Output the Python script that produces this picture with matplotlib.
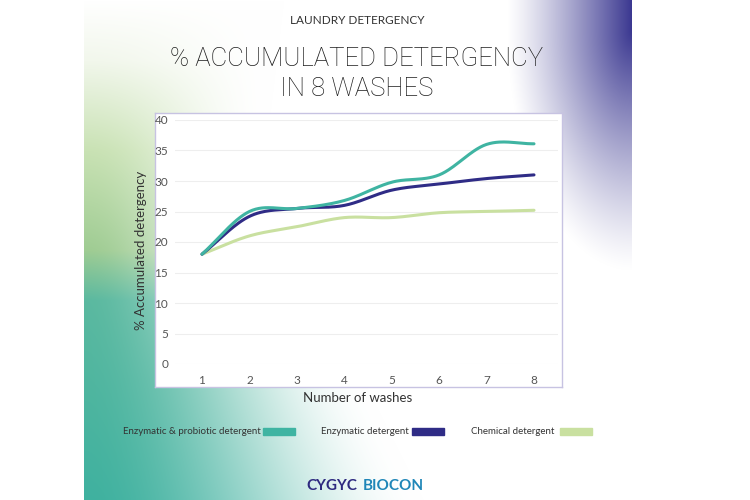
import numpy as np
import matplotlib
matplotlib.use("Agg")
import matplotlib.pyplot as plt
from matplotlib.patches import Rectangle

washes = [1, 2, 3, 4, 5, 6, 7, 8]
enz_probiotic = [18, 25, 25.5, 26.8, 29.8, 31, 36, 36.1]
enzymatic = [18, 24.2, 25.5, 26, 28.5, 29.5, 30.4, 31]
chemical = [18, 21, 22.5, 24, 24, 24.8, 25, 25.2]
names = ["Enzymatic & probiotic detergent", "Enzymatic detergent", "Chemical detergent"]
colors = ["#3fb4a2", "#2f2c86", "#c9e0a0"]

plt.rcParams['font.family'] = ['Lato', 'DejaVu Sans']


def smooth(x, y, n=30):
    # catmull-rom through the points, only for drawing the curve
    x = np.asarray(x, float)
    y = np.asarray(y, float)
    px = np.concatenate([[2 * x[0] - x[1]], x, [2 * x[-1] - x[-2]]])
    py = np.concatenate([[2 * y[0] - y[1]], y, [2 * y[-1] - y[-2]]])
    xs, ys = [], []
    for i in range(1, len(px) - 2):
        t = np.linspace(0, 1, n, endpoint=False)
        for p, out in ((px, xs), (py, ys)):
            p0, p1, p2, p3 = p[i - 1], p[i], p[i + 1], p[i + 2]
            out.append(0.5 * (2 * p1 + (-p0 + p2) * t + (2 * p0 - 5 * p1 + 4 * p2 - p3) * t ** 2
                              + (-p0 + 3 * p1 - 3 * p2 + p3) * t ** 3))
    xs.append([x[-1]])
    ys.append([y[-1]])
    return np.concatenate(xs), np.concatenate(ys)


fig = plt.figure(figsize=(7.5, 5), dpi=100)

# background of the poster
W, H = 548, 500
xx, yy = np.meshgrid(np.arange(W), np.arange(H))
img = np.ones((H, W, 3))

# left side: colour along the edge, faded towards the middle
key_y = [0, 60, 150, 250, 300, 500]
key_c = [matplotlib.colors.to_rgb(c) for c in ["#ffffff", "#f2f7ec", "#c9e2b4", "#9fcc93", "#5bb9a0", "#3fb19f"]]
col = np.stack([np.interp(np.arange(H), key_y, [c[k] for c in key_c]) for k in range(3)], axis=1)
R = np.interp(yy, [0, 250, 380, 500], [200, 170, 280, 340])
a = np.clip(1 - xx / R, 0, 1)
a = a * a * (3 - 2 * a)
img = img * (1 - a[..., None]) + col[:, None, :] * a[..., None]

purple = np.array(matplotlib.colors.to_rgb("#3a3790"))
d_purp = np.sqrt(((W - xx) / 125.0) ** 2 + (np.clip(yy - 30, 0, None) / 240.0) ** 2)
ap = np.clip(1 - d_purp, 0, 1) ** 1.2
img = img * (1 - ap[..., None]) + purple * ap[..., None]

bg = fig.add_axes([84 / 750, 0, 548 / 750, 1])
bg.imshow(img, aspect="auto", extent=[0, 1, 0, 1])
bg.axis("off")

# white frame around the plot
frame = fig.add_axes([155 / 750, 1 - 387 / 500, 407 / 750, 274 / 500])
frame.set_facecolor("white")
frame.set_xticks([])
frame.set_yticks([])
for sp in frame.spines.values():
    sp.set_color("#c7c3e2")
    sp.set_linewidth(1)

ax = fig.add_axes([175 / 750, 1 - 364 / 500, 383 / 750, 244 / 500])
ax.patch.set_alpha(0)
for s, c in zip([enz_probiotic, enzymatic, chemical][::-1], colors[::-1]):
    sx, sy = smooth(washes, s)
    ax.plot(sx, sy, color=c, lw=2.2, solid_capstyle="round")

ax.set_xlim(1 - 27 / 47.43, 8 + 24 / 47.43)
ax.set_ylim(0, 40)
ax.set_xticks(washes)
ax.set_yticks(range(0, 41, 5))
ax.grid(axis="y", color="#eeeeee", lw=0.8)
ax.set_axisbelow(True)
ax.tick_params(length=0, labelsize=8.5, colors="#555555")
ax.tick_params(axis="y", pad=5)
ax.tick_params(axis="x", pad=8)
for sp in ax.spines.values():
    sp.set_visible(False)

fig.text(141 / 750, 1 - 250 / 500, "% Accumulated detergency", rotation=90, ha="center", va="center",
         fontsize=9.5, color="#333333")
fig.text(358 / 750, 1 - 398 / 500, "Number of washes", ha="center", va="center", fontsize=9.5, color="#333333")

fig.text(357 / 750, 1 - 20 / 500, "LAUNDRY DETERGENCY", ha="center", va="center", fontsize=8.5,
         color="#333333")
fig.text(357 / 750, 1 - 59 / 500, "% ACCUMULATED DETERGENCY", ha="center", va="center", fontsize=18.5,
         color="#1e1e1e", family=["Roboto", "DejaVu Sans"], fontweight="light")
fig.text(357 / 750, 1 - 89 / 500, "IN 8 WASHES", ha="center", va="center", fontsize=18.5,
         color="#1e1e1e", family=["Roboto", "DejaVu Sans"], fontweight="light")

# legend
leg_text_x = [123, 321, 471]
leg_patch_x = [263, 412, 560]
for n, c, tx, px in zip(names, colors, leg_text_x, leg_patch_x):
    fig.text(tx / 750, 1 - 432 / 500, n, ha="left", va="center", fontsize=7, color="#333333")
    fig.patches.append(Rectangle((px / 750, 1 - 435 / 500), 32 / 750, 7 / 500, color=c,
                                 transform=fig.transFigure, figure=fig))

fig.text(357 / 750, 1 - 486 / 500, "CYGYC", ha="right", va="center", fontsize=11, fontweight="bold",
         color="#2e2a80")
fig.text(363 / 750, 1 - 486 / 500, "BIOCON", ha="left", va="center", fontsize=11, fontweight="bold",
         color="#1f86b8")

fig.savefig("out.png", dpi=100, facecolor="white")
